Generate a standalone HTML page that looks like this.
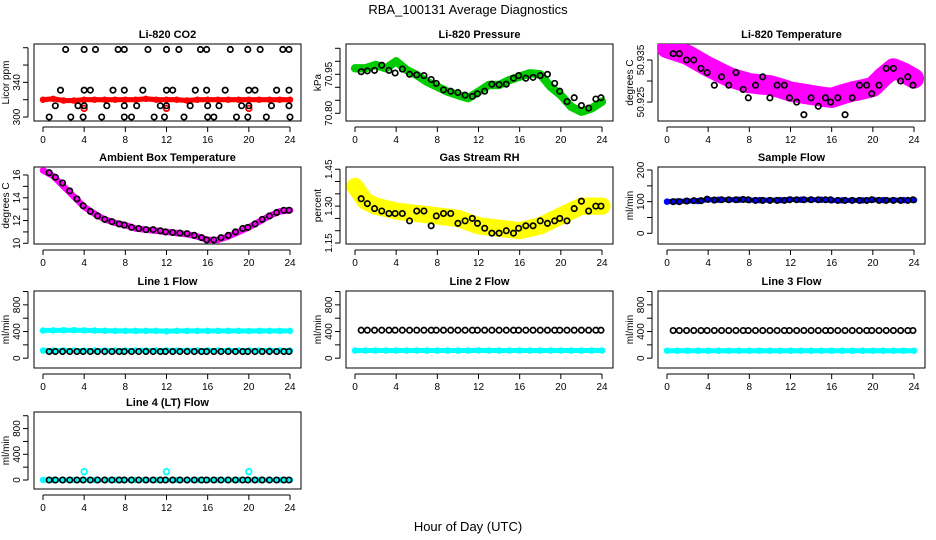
<!DOCTYPE html>
<html><head><meta charset="utf-8"><style>
html,body{margin:0;padding:0;background:#fff;}
svg{display:block;font-family:"Liberation Sans",Arial,sans-serif;}
</style></head><body>
<svg id="chart" width="936" height="540" viewBox="0 0 936 540">
<text x="468" y="14" text-anchor="middle" font-size="13">RBA_100131  Average Diagnostics</text>
<text x="468" y="531" text-anchor="middle" font-size="13">Hour of Day (UTC)</text>
</svg>
<script>
// ---------- data ----------
const hours = [0,1,2,3,4,5,6,7,8,9,10,11,12,13,14,15,16,17,18,19,20,21,22,23,24];
const blackHours = [0.6,1.2,1.9,2.6,3.3,3.9,4.6,5.3,6.0,6.7,7.4,7.9,8.6,9.3,10.0,10.7,11.4,11.9,12.6,13.3,14.0,14.7,15.4,15.9,16.6,17.3,18.0,18.7,19.4,19.9,20.6,21.3,22.0,22.7,23.4,23.9];

const co2Red = [320,321,319,319,320,320,320,320,320,320,321,320,320,320,319,320,320,320,320,320,320,320,320,320,320];
const co2BlackHours = [2.2,4.0,5.1,7.3,7.9,10.2,12.0,13.2,15.3,15.9,18.2,19.9,21.1,23.3,23.9,
 1.7,4.0,4.6,6.8,7.9,9.7,12.0,12.6,14.8,15.9,17.7,20.0,20.6,22.7,23.9,
 1.2,3.4,4.0,6.2,7.9,9.1,11.4,12.0,14.3,16.0,17.1,19.3,20.0,22.2,23.9,
 0.6,2.7,3.9,5.7,7.9,8.6,10.8,11.8,13.7,16.0,16.6,18.8,19.9,21.7,24.0];
const co2BlackVals = [378,378,378,378,378,378,378,378,378,378,378,378,378,378,378,
 331,331,331,331,331,331,331,331,331,331,331,331,331,331,331,
 313,313,313,313,313,313,313,313,313,313,313,313,313,313,313,
 300,300,300,300,300,300,300,300,300,300,300,300,300,300,300];

const presGreen = [70.973,70.973,70.986,70.973,71.0,70.967,70.947,70.921,70.902,70.883,70.870,70.858,70.883,70.909,70.909,70.928,70.941,70.954,70.95,70.902,70.870,70.825,70.806,70.819,70.845];
const presBlack = [70.960,70.963,70.965,70.985,70.965,70.955,70.970,70.950,70.948,70.945,70.930,70.915,70.890,70.885,70.880,70.870,70.865,70.875,70.885,70.912,70.910,70.912,70.935,70.945,70.935,70.938,70.945,70.950,70.915,70.885,70.845,70.860,70.830,70.820,70.855,70.860];

const tempMag = [50.9378,50.937,50.9362,50.9348,50.9334,50.9322,50.931,50.9302,50.9295,50.9292,50.929,50.9283,50.9275,50.9271,50.9267,50.9263,50.926,50.9268,50.9275,50.928,50.9286,50.931,50.933,50.932,50.9306];
const tempBlack = [50.9365,50.9365,50.935,50.935,50.933,50.932,50.929,50.931,50.929,50.932,50.928,50.926,50.929,50.931,50.926,50.929,50.929,50.926,50.925,50.922,50.926,50.924,50.926,50.925,50.926,50.922,50.926,50.929,50.929,50.927,50.929,50.933,50.933,50.930,50.931,50.929];

const ambMag = [16.4,15.9,15.0,14.1,13.2,12.6,12.1,11.8,11.6,11.3,11.2,11.1,11.0,10.9,10.8,10.6,10.3,10.3,10.6,11.0,11.4,11.9,12.4,12.8,12.9];
const ambBlack = [16.2,15.8,15.3,14.6,13.9,13.3,12.8,12.4,12.1,11.9,11.7,11.6,11.4,11.3,11.2,11.2,11.1,11.0,10.95,10.9,10.85,10.7,10.5,10.3,10.3,10.5,10.7,11.0,11.3,11.4,11.7,12.1,12.4,12.7,12.9,12.9];

const rhYellow = [1.38,1.32,1.30,1.29,1.28,1.275,1.27,1.265,1.26,1.255,1.25,1.235,1.22,1.215,1.21,1.205,1.20,1.21,1.22,1.24,1.26,1.28,1.30,1.30,1.30];
const rhBlack = [1.33,1.31,1.29,1.28,1.27,1.27,1.27,1.24,1.28,1.28,1.22,1.26,1.27,1.27,1.23,1.24,1.25,1.23,1.21,1.19,1.19,1.20,1.19,1.21,1.22,1.22,1.24,1.23,1.24,1.25,1.24,1.29,1.32,1.28,1.30,1.30];

const sampBlue = [100,101,102,102,106,106,106,106,105,105,105,105,107,106,106,106,104,104,104,104,106,105,105,105,105];
const sampBlack = [100,100,102,103,103,108,105,106,106,106,107,106,104,104,104,104,104,106,106,106,106,106,106,106,104,104,104,104,104,106,104,104,104,104,104,106];

const l1CyanHigh = [415,418,420,420,418,415,412,410,410,410,410,410,405,410,410,410,410,410,410,410,408,410,410,410,410];
const l1CyanLow = [115,115,115,115,115,115,115,115,115,115,115,115,118,115,115,115,115,115,115,115,115,115,115,115,115];
const l1Black = [100,100,100,100,100,100,100,100,100,100,100,100,100,100,100,100,100,100,100,100,100,100,100,100,100,100,100,100,100,100,100,100,100,100,100,100];
const l2Cyan = [115,115,115,115,115,115,115,115,115,115,115,115,118,115,115,115,115,115,115,115,115,115,115,115,115];
const l2Black = [420,420,420,420,420,420,420,420,420,420,420,420,420,420,420,420,420,420,420,420,420,420,420,420,420,420,420,420,420,420,420,420,420,420,420,420];
const l3Cyan = [112,112,112,112,112,112,112,112,112,112,112,112,112,112,112,112,112,112,112,112,112,112,112,112,112];
const l3Black = [415,415,415,415,415,415,415,415,415,415,415,415,415,415,415,415,415,415,415,415,415,415,415,415,415,415,415,415,415,415,415,415,415,415,415,415];
const l4Cyan = [0,0,0,0,0,0,0,0,0,0,0,0,0,0,0,0,0,0,0,0,0,0,0,0,0];
const l4Black = [0,0,0,0,0,0,0,0,0,0,0,0,0,0,0,0,0,0,0,0,0,0,0,0,0,0,0,0,0,0,0,0,0,0,0,0];
const l4BumpHours = [4,12,20];
const l4BumpVals = [130,130,130];

// ---------- drawing ----------
const NS = "http://www.w3.org/2000/svg";
const svg = document.getElementById('chart');
function mk(tag, attrs, parent){ const e=document.createElementNS(NS,tag); for(const k in attrs) e.setAttribute(k,attrs[k]); (parent||svg).appendChild(e); return e; }

function panel(cfg){
  const g = mk('g',{});
  
  
  const L=cfg.x, T=cfg.y, W=267, H=77;
  const x0=L+9, x1=L+W-11;
  const sx = h => x0 + (x1-x0)*h/24;
  const sy = v => T+H - (v-cfg.lo)/(cfg.hi-cfg.lo)*H;
  const box = mk('rect',{x:L,y:T,width:W,height:H,fill:'none',stroke:'#000','stroke-width':1},g);
  
  
  const t = mk('text',{x:L+W/2,y:T-6,'text-anchor':'middle','font-size':11,'font-weight':'bold'},g);
  t.textContent = cfg.title;
  
  
  const xa = mk('g',{},g);
  
  
  mk('line',{x1:sx(0),x2:sx(24),y1:T+H+6,y2:T+H+6,stroke:'#000'},xa);
  [0,4,8,12,16,20,24].forEach(h=>{
    mk('line',{x1:sx(h),x2:sx(h),y1:T+H+6,y2:T+H+11,stroke:'#000'},xa);
    const tl = mk('text',{x:sx(h),y:T+H+22,'text-anchor':'middle','font-size':10},xa);
    tl.textContent = h;
  });
  const ya = mk('g',{},g);
  
  
  const tk = cfg.ticks;
  mk('line',{x1:L-6,x2:L-6,y1:sy(tk[0]),y2:sy(tk[tk.length-1]),stroke:'#000'},ya);
  tk.forEach(v=> mk('line',{x1:L-11,x2:L-6,y1:sy(v),y2:sy(v),stroke:'#000'},ya));
  cfg.labels.forEach(v=>{
    const yl = mk('text',{x:0,y:0,'text-anchor':'middle','font-size':10,transform:`translate(${L-14},${sy(v)}) rotate(-90)`},ya);
    yl.textContent = cfg.fmt ? v.toFixed(cfg.fmt) : v;
  });
  const yt = mk('text',{x:0,y:0,'text-anchor':'middle','font-size':10,transform:`translate(${L-25},${T+H/2}) rotate(-90)`},g);
  yt.textContent = cfg.ylab;
  
  
  const cid = 'clip-'+cfg.name;
  const cp = mk('clipPath',{id:cid},g); mk('rect',{x:L,y:T,width:W,height:H},cp);
  const pg = mk('g',{'clip-path':`url(#${cid})`},g);
  (cfg.colored||[]).forEach((s,si)=>{
    const sg = mk('g',{},pg);
    
    
    const pts = s.vals.map((v,i)=>sx(hours[i])+','+sy(v)).join(' ');
    const bw = Math.max(5, Math.abs(sy(0+cfg.lo)-sy(cfg.lo+s.spread))*2);
    mk('polyline',{points:pts,fill:'none',stroke:s.color,'stroke-width':bw,'stroke-linejoin':'round','stroke-linecap':'round'},sg);
    s.vals.forEach((v,i)=> mk('circle',{cx:sx(hours[i]),cy:sy(v),r:2.5,fill:'none',stroke:s.color,'stroke-width':1.5},sg));
  });
  (cfg.extras||[]).forEach(s=>{
    s.h.forEach((h,i)=>{
      const c = mk('circle',{cx:sx(h),cy:sy(s.v[i]),r:2.8,fill:'none',stroke:s.color,'stroke-width':1.8},pg);
      
      
    });
  });
  const bg = mk('g',{},pg);
  
  
  const bh = cfg.blackH || blackHours;
  (cfg.black||[]).forEach((v,i)=> mk('circle',{cx:sx(bh[i]),cy:sy(v),r:2.7,fill:'none',stroke:'#000','stroke-width':1.7},bg));
}

const flowTicks=[0,200,400,600,800,1000], flowLabels=[0,400,800];
const cols=[34,346,658];
panel({name:'co2',title:'Li-820 CO2',x:cols[0],y:44,lo:295.4,hi:384.3,ticks:[300,320,340,360,380],labels:[300,340],ylab:'Licor ppm',
  colored:[{vals:co2Red,color:'#ff0000',spread:3}],extras:[{h:[4,12,20],v:[310,310,310],color:'#ff0000'}],black:co2BlackVals,blackH:co2BlackHours});
panel({name:'pressure',title:'Li-820 Pressure',x:cols[1],y:44,lo:70.7704,hi:71.0665,ticks:[70.80,70.85,70.90,70.95,71.00,71.05],labels:[70.80,70.95],fmt:2,ylab:'kPa',
  colored:[{vals:presGreen,color:'#00cc00',spread:0.016}],black:presBlack});
panel({name:'temperature',title:'Li-820 Temperature',x:cols[2],y:44,lo:50.9205,hi:50.9388,ticks:[50.925,50.930,50.935],labels:[50.925,50.935],fmt:3,ylab:'degrees C',
  colored:[{vals:tempMag,color:'#ff00ff',spread:0.0024}],black:tempBlack});
panel({name:'ambient-temp',title:'Ambient Box Temperature',x:cols[0],y:167,lo:9.94,hi:16.7,ticks:[10,11,12,13,14,15,16],labels:[10,12,14,16],ylab:'degrees C',
  colored:[{vals:ambMag,color:'#ff00ff',spread:0.28}],black:ambBlack});
panel({name:'gas-rh',title:'Gas Stream RH',x:cols[1],y:167,lo:1.146,hi:1.459,ticks:[1.15,1.20,1.25,1.30,1.35,1.40,1.45],labels:[1.15,1.30,1.45],fmt:2,ylab:'percent',
  colored:[{vals:rhYellow,color:'#ffff00',spread:0.035}],black:rhBlack});
panel({name:'sample-flow',title:'Sample Flow',x:cols[2],y:167,lo:-33.8,hi:209.5,ticks:[0,50,100,150,200],labels:[0,100,200],ylab:'ml/min',
  colored:[{vals:sampBlue,color:'#0000ff',spread:6}],black:sampBlack});
panel({name:'line1-flow',title:'Line 1 Flow',x:cols[0],y:291,lo:-147,hi:1008,ticks:flowTicks,labels:flowLabels,ylab:'ml/min',
  colored:[{vals:l1CyanHigh,color:'#00ffff',spread:28},{vals:l1CyanLow,color:'#00ffff',spread:15}],black:l1Black});
panel({name:'line2-flow',title:'Line 2 Flow',x:cols[1],y:291,lo:-147,hi:1008,ticks:flowTicks,labels:flowLabels,ylab:'ml/min',
  colored:[{vals:l2Cyan,color:'#00ffff',spread:20}],black:l2Black});
panel({name:'line3-flow',title:'Line 3 Flow',x:cols[2],y:291,lo:-147,hi:1008,ticks:flowTicks,labels:flowLabels,ylab:'ml/min',
  colored:[{vals:l3Cyan,color:'#00ffff',spread:20}],black:l3Black});
panel({name:'line4-flow',title:'Line 4 (LT) Flow',x:cols[0],y:412,lo:-140,hi:1058,ticks:flowTicks,labels:flowLabels,ylab:'ml/min',
  colored:[{vals:l4Cyan,color:'#00ffff',spread:15}],extras:[{h:l4BumpHours,v:l4BumpVals,color:'#00ffff'}],black:l4Black});
</script>
</body></html>
